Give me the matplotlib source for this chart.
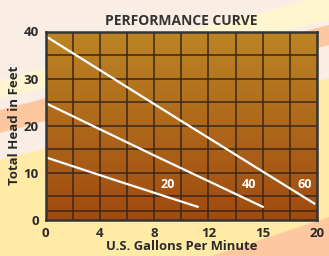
"""
Pump performance curve (head vs flow) redrawn with matplotlib
"""

import numpy as np
import matplotlib.pyplot as plt
from matplotlib.patches import Polygon
from matplotlib.colors import LinearSegmentedColormap

plt.rcParams["font.family"] = ["Open Sans", "DejaVu Sans"]

# ── Data ──────────────────────────────────────
flow_20 = [0, 5.5, 11.2]
head_20 = [13.3, 8.1, 2.8]
flow_40 = [0, 8, 16]
head_40 = [24.8, 13.7, 2.8]
flow_60 = [0, 10, 19.8]
head_60 = [39.0, 21.0, 3.5]

curve_names = ["20", "40", "60"]
label_x = [9.0, 15.0, 19.1]
label_y = [7.5, 7.5, 7.5]

x_ticks = [0, 4, 8, 12, 16, 20]
x_tick_labels = ["0", "4", "8", "12", "15", "20"]
y_ticks = [0, 10, 20, 30, 40]
x_grid = [2, 4, 6, 8, 10, 12, 14, 16, 18]
y_grid = [2, 5, 10, 15, 20, 25, 30, 35]

# ── Figure & background stripes ───────────────
W, H = 329, 256
fig = plt.figure(figsize=(W / 100, H / 100), dpi=100)
fig.patch.set_facecolor("#FAEEE4")

bg = fig.add_axes([0, 0, 1, 1], zorder=-10)
bg.set_xlim(0, W); bg.set_ylim(H, 0); bg.axis("off")

def band(pts, color):
    bg.add_patch(Polygon(pts, closed=True, facecolor=color, edgecolor="none"))

band([(0, 80), (329, -5), (329, 20), (0, 98)], "#FFF6D0")
band([(0, 110), (329, 25), (329, 45), (0, 133)], "#FDC8A0")
band([(0, 160), (329, 78), (329, 256), (0, 256)], "#FFEAA6")
band([(212, 256), (329, 217), (329, 256)], "#FDC8A0")

# ── Plot area ─────────────────────────────────
ax = fig.add_axes([45.7 / W, 1 - 220 / H, (317 - 45.7) / W, (220 - 31.5) / H])
ax.set_xlim(0, 20)
ax.set_ylim(0, 40)

cmap = LinearSegmentedColormap.from_list("bg", ["#A04A10", "#BC8524"])
grad = np.linspace(0, 1, 256).reshape(-1, 1)
ax.imshow(grad, cmap=cmap, origin="lower", extent=[0, 20, 0, 40],
          aspect="auto", zorder=0)

for gx in x_grid:
    ax.axvline(gx, color="#3A2818", linewidth=1.1, zorder=1)
for gy in y_grid:
    ax.axhline(gy, color="#3A2818", linewidth=1.1, zorder=1)

ax.plot(flow_20, head_20, color="white", linewidth=1.6, zorder=3)
ax.plot(flow_40, head_40, color="white", linewidth=1.6, zorder=3)
ax.plot(flow_60, head_60, color="white", linewidth=1.6, zorder=3)

for name, lx, ly in zip(curve_names, label_x, label_y):
    ax.text(lx, ly, name, color="white", fontsize=9, fontweight="bold",
            ha="center", va="center", zorder=4)

for s in ax.spines.values():
    s.set_color("#333333")
    s.set_linewidth(1.8)
    s.set_zorder(5)

ax.set_xticks(x_ticks)
ax.set_xticklabels(x_tick_labels)
ax.set_yticks(y_ticks)
ax.tick_params(length=0, labelsize=9.5, colors="#2A2A2A", pad=5)
for lab in ax.get_xticklabels() + ax.get_yticklabels():
    lab.set_fontweight("bold")

ax.set_xlabel("U.S. Gallons Per Minute", fontsize=9.4, fontweight="bold",
              color="#2A2A2A", labelpad=0)
ax.set_ylabel("Total Head in Feet", fontsize=9.5, fontweight="bold",
              color="#2A2A2A", labelpad=2)
ax.set_title("PERFORMANCE CURVE", fontsize=10, fontweight="bold",
             color="#333333", pad=5)

plt.savefig("out.png", dpi=100)
